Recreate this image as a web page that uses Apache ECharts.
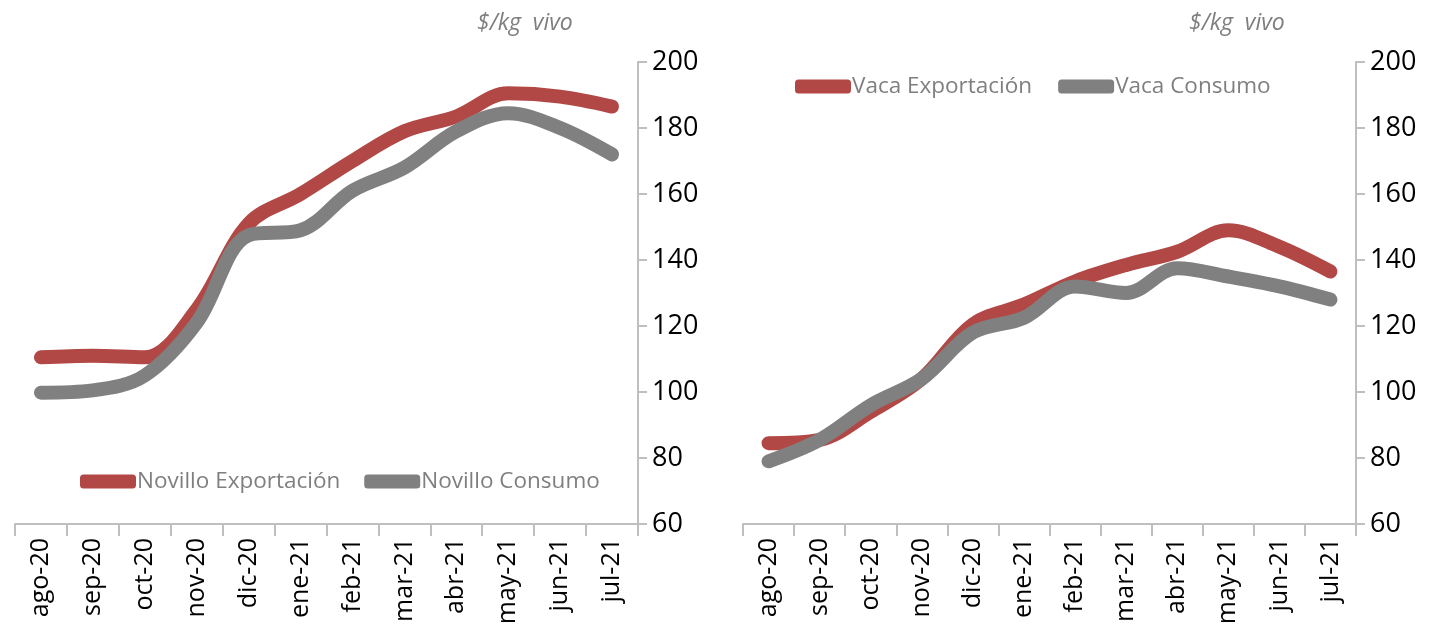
<!DOCTYPE html>
<html>
<head>
<meta charset="utf-8">
<script src="https://cdn.jsdelivr.net/npm/echarts@6/dist/echarts.min.js"></script>
<style>
html,body{margin:0;padding:0;background:#fff;}
#chart{width:1430px;height:632px;}
</style>
</head>
<body>
<div id="chart"></div>
<script>
const categories = ['ago-20','sep-20','oct-20','nov-20','dic-20','ene-21','feb-21','mar-21','abr-21','may-21','jun-21','jul-21'];
const novilloExportacion = [110.5, 111, 110.5, 125, 151, 160, 170, 179, 183.5, 190.5, 189.5, 186.5];
const novilloConsumo = [99.8, 100.5, 105, 121, 147.5, 149, 161, 168, 179, 184.5, 180, 172];
const vacaExportacion = [84.5, 85.5, 94, 104, 120.5, 126.5, 133.5, 138.5, 142.5, 149, 144, 136.5];
const vacaConsumo = [79, 85.5, 96, 104, 118, 122.5, 132, 130, 137.5, 135, 132, 128];
const yTicks = {min: 60, max: 200, interval: 20};
const unitLabel = '$/kg  vivo';

const RED = '#b14845';
const GRAY = '#808080';
const AXIS = '#bfbfbf';
const FONT = '"Open Sans",sans-serif';

function xAxis(gi){
  return {
    type:'category', gridIndex:gi, data:categories, boundaryGap:true,
    axisLine:{lineStyle:{color:AXIS,width:2}},
    axisTick:{show:true,length:12,lineStyle:{color:AXIS,width:2},alignWithLabel:false},
    axisLabel:{rotate:90,color:'#000',fontSize:25,fontFamily:FONT,margin:14,interval:0}
  };
}
function yAxis(gi){
  return {
    type:'value', gridIndex:gi, position:'right', min:yTicks.min, max:yTicks.max, interval:yTicks.interval,
    axisLine:{show:true,lineStyle:{color:AXIS,width:2}},
    axisTick:{show:true,length:9,lineStyle:{color:AXIS,width:2}},
    splitLine:{show:false},
    axisLabel:{color:'#000',fontSize:27,fontFamily:FONT,margin:14}
  };
}
function line(name, data, color, gi){
  return {
    name, type:'line', xAxisIndex:gi, yAxisIndex:gi, data, smooth:0.35,
    symbol:'none', lineStyle:{color, width:14, cap:'round', join:'round'},
    itemStyle:{color}, animation:false
  };
}

const chart = echarts.init(document.getElementById('chart'));
chart.setOption({
  animation:false,
  textStyle:{fontFamily:FONT},
  title:[
    {text:unitLabel,left:472,top:7,textStyle:{fontStyle:'italic',fontWeight:'normal',color:'#7f7f7f',fontSize:23,fontFamily:FONT}},
    {text:unitLabel,left:1184,top:7,textStyle:{fontStyle:'italic',fontWeight:'normal',color:'#7f7f7f',fontSize:23,fontFamily:FONT}}
  ],
  legend:[
    {data:['Novillo Exportación','Novillo Consumo'],left:75,top:465,icon:'roundRect',itemWidth:56,itemHeight:14,itemGap:24,
     textStyle:{color:'#7f7f7f',fontSize:22.5,padding:[0,0,0,-4],fontFamily:FONT}},
    {data:['Vaca Exportación','Vaca Consumo'],left:790,top:70,icon:'roundRect',itemWidth:56,itemHeight:14,itemGap:26,
     textStyle:{color:'#7f7f7f',fontSize:22.5,padding:[0,0,0,-4],fontFamily:FONT}}
  ],
  grid:[
    {left:15,top:62,width:623,height:462},
    {left:743,top:62,width:613,height:462}
  ],
  xAxis:[xAxis(0),xAxis(1)],
  yAxis:[yAxis(0),yAxis(1)],
  series:[
    line('Novillo Exportación',novilloExportacion,RED,0),
    line('Novillo Consumo',novilloConsumo,GRAY,0),
    line('Vaca Exportación',vacaExportacion,RED,1),
    line('Vaca Consumo',vacaConsumo,GRAY,1)
  ]
});
</script>
</body>
</html>
